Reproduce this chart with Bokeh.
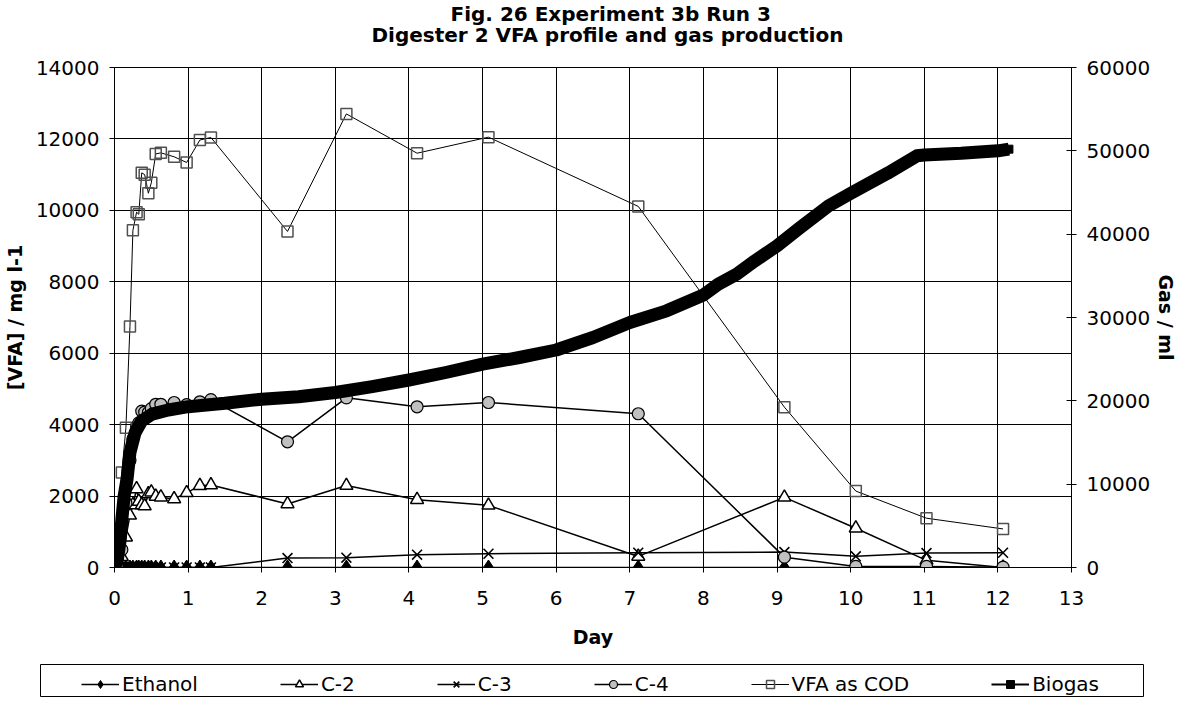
from bokeh.plotting import figure
from bokeh.layouts import column
from bokeh.models import (Range1d, LinearAxis, Title, Legend, LegendItem,
                          SingleIntervalTicker, NumeralTickFormatter)
from bokeh.embed import file_html
from bokeh.resources import INLINE

FONT = "DejaVu Sans"

# sampling days (shared by VFA series)
days = [0, 0.034, 0.10, 0.155, 0.21, 0.25, 0.30, 0.33, 0.37, 0.41, 0.46, 0.50,
        0.56, 0.63, 0.81, 0.98, 1.16, 1.31, 2.35, 3.15, 4.11, 5.08, 7.115,
        9.10, 10.07, 11.03, 12.07]
ethanol = [0, 0, 0, 0, 0, 0, 0, 0, 0, 0, 0, 0, 0, 0, 0, 0, 0, 0,
           0, 0, 0, 0, 0, 0, 0, 0, 0]
c2 = [0, 0, 300, 850, 1460, 1750, 2200, 1850, 1750, 1720, 2060, 2110, 1990,
      1970, 1920, 2090, 2290, 2310, 1780, 2295, 1900, 1740, 310, 1965, 1100,
      200, 0]
c3 = [0, 0, 0, 0, 0, 0, 0, 0, 0, 0, 0, 0, 0, 0, 0, 0, 0, 0,
      265, 274, 358, 385, 413, 433, 312, 405, 413]
c4 = [0, 50, 500, 1800, 3000, 3600, 3950, 4050, 4380, 4350, 4340, 4450, 4570,
      4570, 4620, 4560, 4640, 4700, 3520, 4750, 4500, 4620, 4305, 290, 30,
      30, 10]
vfa_cod = [430, 915, 2660, 3915, 6750, 9440, 9950, 9890, 11050, 11000, 10480,
           10770, 11580, 11610, 11500, 11340, 11970, 12040, 9410, 12700, 11600,
           12050, 10110, 4490, 2140, 1380, 1080]

# biogas (secondary axis)
bio_day = [0, 0.04, 0.08, 0.10, 0.13, 0.17, 0.21, 0.28, 0.37, 0.51, 0.73, 1.0,
           1.5, 2.0, 2.5, 3.0, 3.5, 4.0, 4.5, 5.0, 5.5, 6.0, 6.5, 7.0, 7.5,
           8.0, 8.2, 8.45, 8.7, 9.0, 9.3, 9.7, 10.0, 10.5, 10.9, 11.0, 11.5,
           12.0, 12.15]
bio_ml = [0, 1000, 3500, 5800, 8500, 10600, 13800, 16200, 17600, 18400, 18900,
          19300, 19700, 20200, 20500, 21000, 21700, 22500, 23400, 24400, 25200,
          26100, 27600, 29400, 30800, 32700, 34000, 35200, 36800, 38600, 40700,
          43400, 44900, 47300, 49400, 49500, 49700, 50000, 50200]

title1 = "Fig. 26 Experiment 3b Run 3"
title2 = "Digester 2 VFA profile and gas production"
labels = ["Ethanol", "C-2", "C-3", "C-4", "VFA as COD", "Biogas"]

p = figure(width=1180, height=664, x_range=Range1d(0, 13), y_range=Range1d(0, 14000),
           output_backend="svg", toolbar_location=None,
           min_border_left=114, min_border_right=104, min_border_top=66,
           min_border_bottom=97)
p.background_fill_color = "white"
p.outline_line_color = "black"
p.extra_y_ranges = {"gas": Range1d(0, 60000)}

# titles (added bottom line first)
p.add_layout(Title(text=title2, align="left", offset=257, standoff=41,
                   text_font=FONT, text_font_size="20px", text_font_style="bold",
                   text_color="black"), "above")
p.add_layout(Title(text=title1, align="left", offset=336, standoff=-50,
                   text_font=FONT, text_font_size="20px", text_font_style="bold",
                   text_color="black"), "above")

def style_axis(ax):
    ax.axis_line_color = "black"
    ax.major_tick_line_color = "black"
    ax.minor_tick_line_color = None
    ax.major_label_text_font = FONT
    ax.major_label_text_font_size = "20px"
    ax.major_label_text_color = "black"
    ax.axis_label_text_font = FONT
    ax.axis_label_text_font_size = "19px"
    ax.axis_label_text_font_style = "bold"
    ax.axis_label_text_color = "black"

p.xaxis.ticker = SingleIntervalTicker(interval=1)
p.xaxis.axis_label = "Day"
p.xaxis.major_tick_in = 0
p.xaxis.major_tick_out = 5
p.xaxis.major_label_standoff = 18
p.xaxis.axis_label_standoff = 18
style_axis(p.xaxis[0])

p.yaxis.ticker = SingleIntervalTicker(interval=2000)
p.yaxis.formatter = NumeralTickFormatter(format="0")
p.yaxis.axis_label = "[VFA] / mg l-1"
p.yaxis.major_tick_in = 5
p.yaxis.major_tick_out = 5
p.yaxis.major_label_standoff = 10
p.yaxis.axis_label_standoff = 7
style_axis(p.yaxis[0])

right = LinearAxis(y_range_name="gas", ticker=SingleIntervalTicker(interval=10000),
                   formatter=NumeralTickFormatter(format="0"), axis_label="Gas / ml")
right.major_tick_in = 5
right.major_tick_out = 5
right.major_label_standoff = 10
right.axis_label_standoff = 2
style_axis(right)
p.add_layout(right, "right")

p.xgrid.grid_line_color = "black"
p.ygrid.grid_line_color = "black"
p.xgrid.grid_line_width = 1
p.ygrid.grid_line_width = 1


def draw(fig, gas_range):
    kw = {"y_range_name": "gas"} if gas_range else {}
    r = []
    r.append([fig.line(days, ethanol, line_color="black", line_width=1.5),
              fig.scatter(days, ethanol, marker="diamond", size=15,
                          fill_color="black", line_color="black")])
    r.append([fig.line(days, c2, line_color="black", line_width=1.5),
              fig.scatter(days, c2, marker="triangle", size=13, fill_color="white",
                          line_color="black", line_width=1.5)])
    r.append([fig.line(days, c3, line_color="black", line_width=1.5),
              fig.scatter(days, c3, marker="x", size=14, line_color="black",
                          line_width=1.6)])
    r.append([fig.line(days, c4, line_color="black", line_width=1.5),
              fig.scatter(days, c4, marker="circle", size=12, fill_color="#c0c0c0",
                          line_color="black", line_width=1.2)])
    r.append([fig.line(days, vfa_cod, line_color="black", line_width=1),
              fig.scatter(days, vfa_cod, marker="square", size=11,
                          fill_color="white", fill_alpha=0, line_color="#505050",
                          line_width=1.5)])
    r.append([fig.line(bio_day, bio_ml, line_color="black", line_width=2, **kw),
              fig.scatter(bio_day, bio_ml, marker="square", size=8,
                          fill_color="black", line_color="black", **kw)])
    return r

draw(p, True)
p.line(bio_day, bio_ml, y_range_name="gas", line_color="black",
       line_width=13, line_join="round", line_cap="butt")

# legend strip (its frame is the legend box)
lg = figure(width=1180, height=33, x_range=Range1d(-20, -19), y_range=Range1d(-20, -19),
            output_backend="svg", toolbar_location=None,
            x_axis_location=None, y_axis_location=None,
            min_border_left=40, min_border_right=37, min_border_top=0,
            min_border_bottom=1)
lg.frame_align = False
lg.xgrid.grid_line_color = None
lg.ygrid.grid_line_color = None
lg.outline_line_color = "black"
lg.background_fill_color = "white"
lrs = draw(lg, False)

legend = Legend(items=[LegendItem(label=lab, renderers=rr) for lab, rr in zip(labels, lrs)],
                orientation="horizontal", location=(41, 0), spacing=82, glyph_width=38,
                glyph_height=20, label_standoff=3, padding=2, margin=0,
                border_line_color=None, label_text_font=FONT,
                label_text_font_size="20px", label_text_color="black",
                background_fill_alpha=0)
lg.add_layout(legend, "center")

open("out.html", "w").write(file_html(column(p, lg, spacing=0), INLINE))
